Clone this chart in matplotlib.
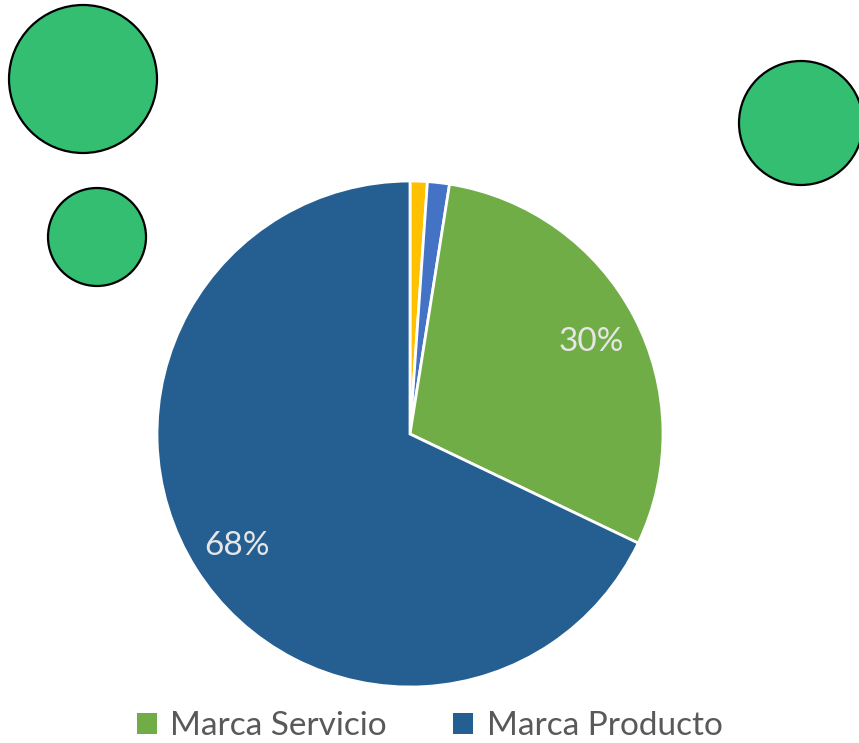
import matplotlib.pyplot as plt
from matplotlib.patches import Circle, Patch

# data
categories = ['Otro', 'Mixta', 'Marca Servicio', 'Marca Producto']
values = [1.1, 1.4, 29.6, 67.9]
colors = ['#FFC000', '#4472C4', '#70AD47', '#255E91']
legend_cats = ['Marca Servicio', 'Marca Producto']

# decorative circles (pixel centre x, y, radius)
bubbles_x = [83, 97, 801]
bubbles_y = [79, 237, 123]
bubbles_r = [74, 49, 62]

W, H = 859, 743
fig = plt.figure(figsize=(W / 100, H / 100), dpi=100)
fig.patch.set_facecolor('white')

cx, cy, R = 410, 434, 253
ax = fig.add_axes([(cx - R) / W, (H - cy - R) / H, 2 * R / W, 2 * R / H])
wedges, texts, autotexts = ax.pie(
    values, colors=colors, startangle=90, counterclock=False, radius=1,
    wedgeprops=dict(edgecolor='white', linewidth=2),
    autopct=lambda p: f'{p:.0f}%' if p > 5 else '', pctdistance=0.81,
    textprops=dict(color='#E6E6E6', fontsize=24, family='Lato'))
for t in autotexts:
    t.set_va('center_baseline')
ax.set_xlim(-1, 1)
ax.set_ylim(-1, 1)
ax.set_aspect('equal')
ax.axis('off')

handles = [Patch(facecolor=colors[categories.index(c)]) for c in legend_cats]
fig.legend(handles, legend_cats, loc='center', bbox_to_anchor=(0.5, 17 / H),
           ncol=2, frameon=False, prop=dict(family='Lato', size=24),
           labelcolor='#595959', handlelength=0.6, handleheight=0.6,
           handletextpad=0.4, columnspacing=2.0)

# overlay for the green bubbles
ov = fig.add_axes([0, 0, 1, 1], zorder=5)
ov.set_xlim(0, W)
ov.set_ylim(H, 0)
ov.axis('off')
for x, y, r in zip(bubbles_x, bubbles_y, bubbles_r):
    ov.add_patch(Circle((x, y), r, facecolor='#33BE72', edgecolor='black', linewidth=1.6))

fig.savefig('out.png', dpi=100)
